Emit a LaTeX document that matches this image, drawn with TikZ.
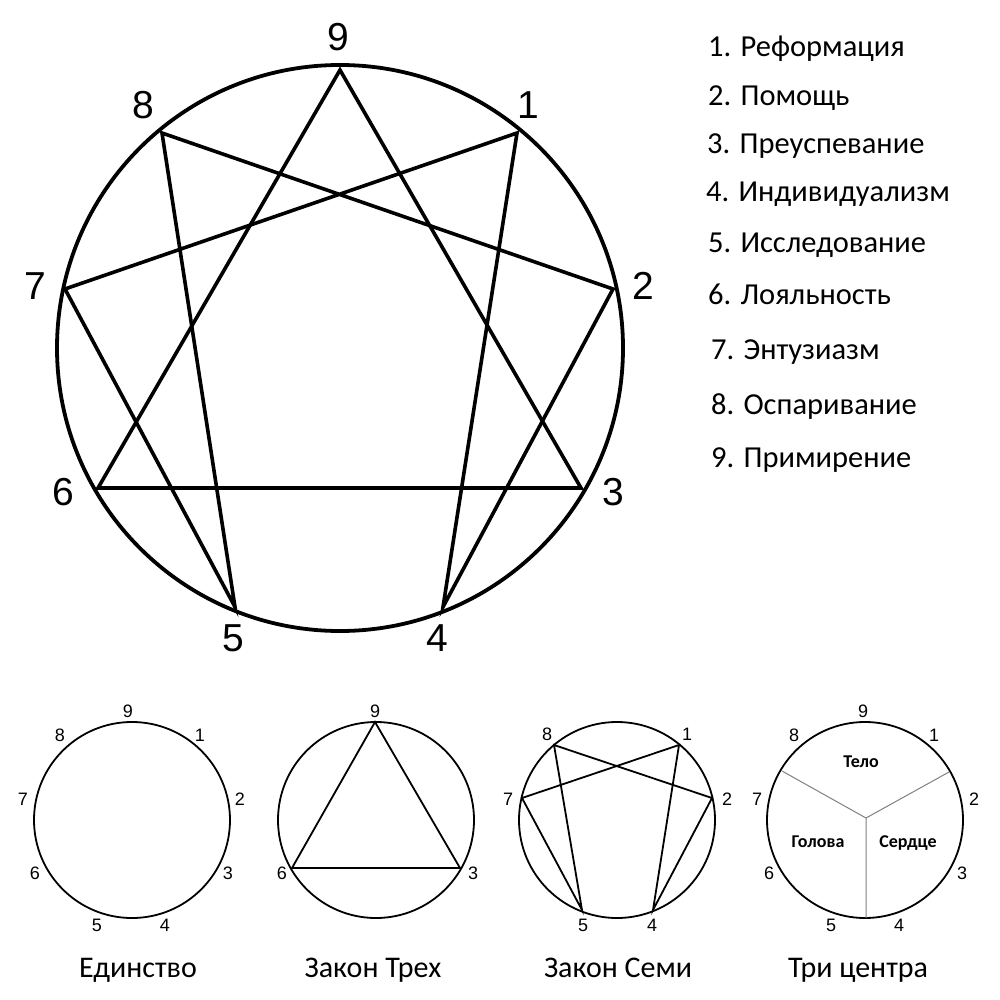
\documentclass[tikz,border=0pt]{standalone}
\usepackage{fontspec}
\setmainfont{Liberation Sans}
\newfontfamily\calfont{Carlito}
\begin{document}
\begin{tikzpicture}[x=1pt,y=-1pt,
  bigline/.style={line width=3.6pt,line join=miter},
  bigcirc/.style={line width=3.8pt},
  smline/.style={line width=1.8pt},
  bignum/.style={font=\fontsize{39}{42}\selectfont,inner sep=0pt},
  smnum/.style={font=\fontsize{18}{20}\selectfont,inner sep=0pt},
  item/.style={font=\calfont\fontsize{30.5}{34}\selectfont,anchor=base west,inner sep=0pt},
  caption/.style={font=\calfont\fontsize{30}{34}\selectfont,anchor=base,inner sep=0pt},
  center/.style={font=\calfont\bfseries\fontsize{18}{20}\selectfont,anchor=base,inner sep=0pt}]
\useasboundingbox (0,0) rectangle (1000,1000);
% main enneagram
\draw[bigcirc] (340,348) circle (283);
\coordinate (p9) at (340,70);
\coordinate (p1) at (517,133);
\coordinate (p2) at (613,289);
\coordinate (p3) at (581,488);
\coordinate (p4) at (443,607);
\coordinate (p5) at (235,607);
\coordinate (p6) at (98,488);
\coordinate (p7) at (65,289);
\coordinate (p8) at (162,133);
\draw[bigline] (p9) -- (p3) -- (p6) -- cycle;
\draw[bigline] (p1) -- (p4) -- (p2) -- (p8) -- (p5) -- (p7) -- cycle;
\node[bignum] (n9) at (338,37) {9};
\node[bignum] (n1) at (528,105) {1};
\node[bignum] (n2) at (643,286) {2};
\node[bignum] (n3) at (613,492) {3};
\node[bignum] (n4) at (437,638) {4};
\node[bignum] (n5) at (233,638) {5};
\node[bignum] (n6) at (63,492) {6};
\node[bignum] (n7) at (35,286) {7};
\node[bignum] (n8) at (143,105) {8};
% list
\node[item] (l1) at (708,57) {1. Реформация};
\node[item] (l2) at (708,106) {2. Помощь};
\node[item] (l3) at (707,154) {3. Преуспевание};
\node[item] (l4) at (706,202) {4. Индивидуализм};
\node[item] (l5) at (708,252) {5. Исследование};
\node[item] (l6) at (708,304) {6. Лояльность};
\node[item] (l7) at (711,359) {7. Энтузиазм};
\node[item] (l8) at (711,414) {8. Оспаривание};
\node[item] (l9) at (711,467) {9. Примирение};
% small circle 1
\draw[smline] (132,820) circle (98);
\node[smnum] (a9) at (128,711) {9};
\node[smnum] (a8) at (60,735) {8};
\node[smnum] (a1) at (200,735) {1};
\node[smnum] (a7) at (23,799) {7};
\node[smnum] (a2) at (240,799) {2};
\node[smnum] (a6) at (35,873) {6};
\node[smnum] (a3) at (228,873) {3};
\node[smnum] (a5) at (97,925) {5};
\node[smnum] (a4) at (165,925) {4};
\node[caption] (c1) at (138,977) {Единство};
% small circle 2
\draw[smline] (376,820) circle (98);
\coordinate (b9v) at (375,722);
\coordinate (b6v) at (292,868);
\coordinate (b3v) at (460,868);
\draw[smline] (b9v) -- (b3v) -- (b6v) -- cycle;
\node[smnum] (b9) at (375,711) {9};
\node[smnum] (b6) at (282,873) {6};
\node[smnum] (b3) at (473,873) {3};
\node[caption] (c2) at (373,977) {Закон Трех};
% small circle 3
\draw[smline] (617,820) circle (98);
\coordinate (d8v) at (554,745);
\coordinate (d1v) at (679,745);
\coordinate (d7v) at (522,798);
\coordinate (d2v) at (712,798);
\coordinate (d5v) at (582,910);
\coordinate (d4v) at (653,910);
\draw[smline] (d1v) -- (d4v) -- (d2v) -- (d8v) -- (d5v) -- (d7v) -- cycle;
\node[smnum] (d8) at (547,734) {8};
\node[smnum] (d1) at (687,734) {1};
\node[smnum] (d7) at (508,799) {7};
\node[smnum] (d2) at (727,799) {2};
\node[smnum] (d5) at (583,925) {5};
\node[smnum] (d4) at (652,925) {4};
\node[caption] (c3) at (618,977) {Закон Семи};
% small circle 4
\draw[smline] (865,820) circle (98);
\coordinate (ec) at (866,818);
\coordinate (el) at (782,771);
\coordinate (er) at (949,772);
\coordinate (eb) at (866,918);
\draw[gray,line width=1pt] (ec) -- (el) (ec) -- (er) (ec) -- (eb);
\node[smnum] (e9) at (863,711) {9};
\node[smnum] (e8) at (794,735) {8};
\node[smnum] (e1) at (934,735) {1};
\node[smnum] (e7) at (757,799) {7};
\node[smnum] (e2) at (974,799) {2};
\node[smnum] (e6) at (769,873) {6};
\node[smnum] (e3) at (962,873) {3};
\node[smnum] (e5) at (831,925) {5};
\node[smnum] (e4) at (899,925) {4};
\node[center] (t1) at (861,767) {Тело};
\node[center] (t2) at (818,847) {Голова};
\node[center] (t3) at (908,847) {Сердце};
\node[caption] (c4) at (858,977) {Три центра};
\end{tikzpicture}
\end{document}
